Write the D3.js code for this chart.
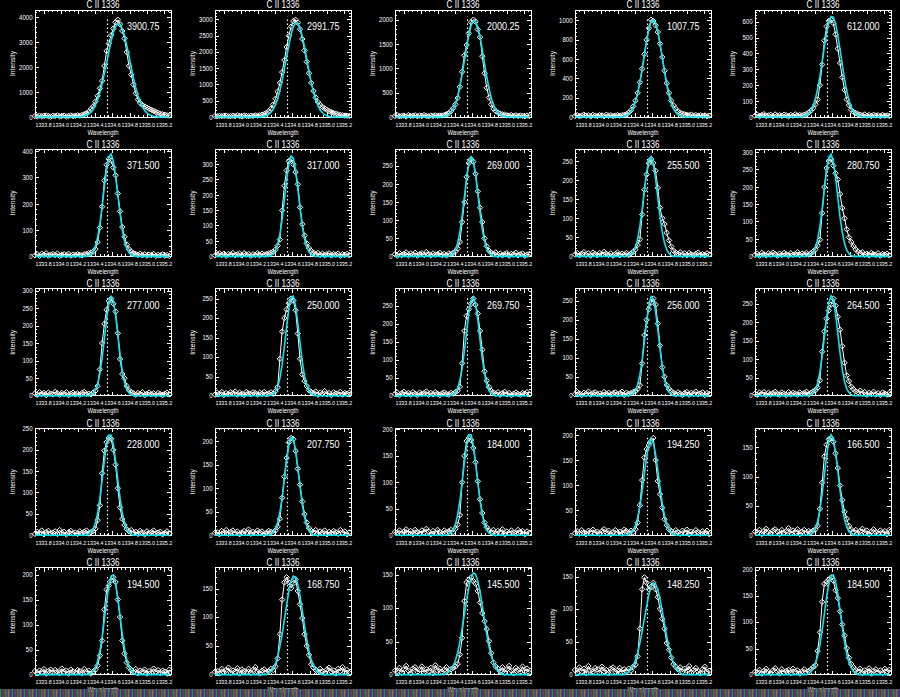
<!DOCTYPE html>
<head>
<meta charset="utf-8">
<script src="https://d3js.org/d3.v7.min.js"></script>
<style>
    body{margin:0;background:#000;}
    text{font-family:"Liberation Sans",Arial,sans-serif;fill:#fff;}
</style>
</head>
<body>
<div id="container"></div>
<script>
    // wavelength grid (Angstrom) shared by every spectrum
    var wave = [1333.700,1333.726,1333.752,1333.778,1333.804,1333.830,1333.856,1333.882,1333.908,1333.934,
        1333.960,1333.986,1334.012,1334.038,1334.064,1334.090,1334.116,1334.142,1334.168,1334.194,
        1334.220,1334.246,1334.272,1334.298,1334.324,1334.350,1334.376,1334.402,1334.428,1334.454,
        1334.480,1334.506,1334.532,1334.558,1334.584,1334.610,1334.636,1334.662,1334.688,1334.714,
        1334.740,1334.766,1334.792,1334.818,1334.844,1334.870,1334.896,1334.922,1334.948,1334.974,
        1335.000,1335.026,1335.052,1335.078,1335.104,1335.130,1335.156,1335.182,1335.208,1335.234,
        1335.260];
    var xTicks = [1333.8,1334.0,1334.2,1334.4,1334.6,1334.8,1335.0,1335.2];
    var restWave = 1334.532;
    var lineTitle = 'C II 1336';

    // observed intensities, one array per panel
    var obs01 = [40,25,55,30,45,60,35,20,50,40,65,30,45,55,25,40,60,35,50,70,55,80,110,150,210,320,430,620,850,1150,1450,2050,2650,2950,3280,3550,3800,3900.75,3720,3450,3150,2600,2050,1700,1300,950,700,560,480,420,380,330,290,250,200,170,130,110,90,70,60];
    var obs02 = [30,20,40,25,35,45,20,30,40,25,50,30,20,45,35,25,40,30,50,45,55,70,90,130,180,260,380,560,780,1050,1380,1750,2150,2500,2780,2950,2991.75,2900,2700,2400,2050,1700,1350,1050,800,600,460,370,310,260,220,180,150,120,100,80,65,55,45,40,35];
    var obs03 = [20,35,15,25,30,10,40,20,25,35,15,30,20,40,25,15,30,20,35,25,30,30,40,55,80,120,180,260,390,620,930,1270,1480,1720,1950,2000.25,1960,1800,1640,1250,900,600,400,260,170,120,90,70,55,45,35,30,40,25,35,20,30,25,15,30,20];
    var obs04 = [10,20,8,15,25,12,18,6,22,14,10,20,16,8,24,12,18,10,15,20,14,18,22,30,45,70,110,170,250,360,500,650,800,920,1007.75,995,950,880,760,620,480,350,250,170,120,85,60,45,35,28,22,18,25,15,20,12,18,10,16,8,14];
    var obs05 = [8,15,5,12,18,6,10,14,4,16,9,12,7,15,11,5,13,8,17,10,12,10,14,20,28,40,55,80,110,200,330,480,570,605,612,590,520,430,340,250,170,110,75,45,32,25,18,14,10,16,8,12,6,14,9,11,5,13,8,10,7];
    var obs06 = [4,8,2,10,6,12,3,7,9,5,11,2,6,8,4,10,3,7,5,9,6,4,8,10,12,14,18,28,55,110,190,290,350,371.5,365,340,310,240,172,112,75,45,28,18,12,9,6,10,4,8,3,7,5,9,2,6,4,8,3,5,2];
    var obs07 = [3,7,10,5,9,2,8,6,11,4,7,9,3,10,6,8,2,7,5,11,4,9,6,8,10,12,15,22,35,55,150,230,280,310,317,300,275,235,160,105,68,42,27,18,12,8,11,5,9,4,7,10,3,8,6,9,2,7,5,8,4];
    var obs08 = [6,2,9,4,7,11,3,8,5,10,2,6,9,4,12,7,3,8,5,6,10,4,7,3,8,6,10,14,22,40,95,150,220,258,269,262,228,180,135,95,50,28,16,10,7,11,4,8,3,6,9,2,7,5,10,3,6,8,2,5,7];
    var obs09 = [5,9,3,7,11,4,8,2,10,6,3,9,5,12,7,4,8,2,6,10,3,7,5,9,4,8,12,18,30,45,110,175,215,245,255.5,245,225,180,128,100,85,62,42,26,15,10,7,11,4,8,3,9,5,2,7,10,4,6,3,8,5];
    var obs10 = [4,8,2,10,6,3,9,5,11,7,2,8,4,10,6,3,9,5,7,12,4,8,6,10,5,9,14,20,32,48,125,200,255,275,280.75,262,240,222,180,140,110,78,55,42,30,20,14,9,12,5,8,3,10,6,4,9,2,7,5,8,3];
    var obs11 = [7,3,10,5,8,2,9,6,4,11,7,3,8,5,10,2,6,9,4,7,3,8,11,5,6,4,9,14,28,75,150,205,245,270,277,262,240,178,105,62,50,28,16,10,7,3,8,5,10,2,6,9,4,7,3,8,5,2,6,9,4];
    var obs12 = [3,8,5,10,2,7,4,9,6,11,3,8,5,2,10,6,4,9,7,3,8,5,10,4,6,9,5,12,22,95,165,200,222,238,250,245,220,160,95,55,38,25,14,10,6,11,3,8,5,12,4,7,2,9,6,4,10,3,7,5,8];
    var obs13 = [5,9,2,7,11,4,8,3,10,6,2,9,5,7,12,3,8,4,10,6,2,7,9,5,3,8,6,10,14,25,90,180,222,240,255,269.75,252,228,180,128,68,42,24,14,9,5,10,3,7,11,4,8,2,6,9,5,3,8,6,10,4];
    var obs14 = [4,10,6,2,8,5,11,3,7,9,4,6,2,10,5,8,3,7,9,4,6,11,2,8,5,7,10,12,18,28,85,160,200,228,245,256,240,190,132,75,50,28,18,12,8,4,9,6,2,7,10,3,8,5,11,4,6,9,2,7,5];
    var obs15 = [6,3,9,5,10,2,8,4,7,11,5,3,9,6,2,10,4,8,6,3,9,5,7,11,4,8,12,15,22,42,120,175,210,232,248,264.5,245,215,180,135,90,55,40,25,18,12,9,14,6,10,3,8,5,11,4,7,2,9,6,3,8];
    var obs16 = [3,8,5,11,2,7,10,4,6,9,3,12,5,8,2,7,10,4,6,3,9,5,8,11,4,7,10,15,35,70,145,198,218,228,226,200,165,110,65,38,24,14,9,12,5,8,3,10,6,2,9,4,7,11,3,6,8,2,5,9,4];
    var obs17 = [5,6,2,9,5,11,3,7,10,4,8,2,6,9,5,12,3,7,4,10,6,8,2,5,9,7,4,10,18,35,80,125,165,198,207.75,205,180,142,108,72,45,27,15,9,6,11,3,8,5,10,2,7,4,9,6,3,11,5,8,2,6];
    var obs18 = [6,5,9,3,7,11,4,8,2,10,6,3,9,5,12,7,2,8,4,10,6,3,9,5,7,10,6,12,20,38,100,150,178,184,180,165,138,102,68,42,24,15,9,5,10,3,8,6,11,2,7,4,9,5,3,10,6,8,2,7,4];
    var obs19 = [4,8,3,10,5,2,9,6,11,4,7,3,8,12,5,9,2,6,10,4,7,3,11,8,5,9,6,12,25,60,110,155,172,180,188,194.25,150,108,82,55,32,20,12,8,4,10,6,3,9,5,11,2,7,4,10,6,3,8,5,9,2];
    var obs20 = [6,4,9,2,7,11,5,3,8,10,6,2,9,4,7,12,3,8,5,10,2,6,9,4,7,5,8,10,16,45,90,135,155,164,166.5,160,140,115,85,60,40,28,16,10,6,9,3,7,11,4,8,2,6,10,5,3,8,4,7,2,9];
    var obs21 = [7,3,8,5,11,2,7,10,4,9,6,3,12,5,8,2,10,6,4,9,7,3,11,5,8,2,6,10,18,38,68,130,170,178,188,194.5,185,150,115,68,42,24,14,9,5,11,3,8,6,10,2,7,4,12,5,9,3,8,6,2,10];
    var obs22 = [5,6,2,10,4,8,12,3,7,5,11,2,9,6,4,10,3,8,13,5,2,7,9,4,6,10,8,14,28,70,130,160,168.75,160,150,158,165,145,122,98,70,50,34,18,12,8,4,10,6,3,9,12,5,7,2,10,6,13,4,8,3];
    var obs23 = [6,5,10,3,8,13,6,2,9,11,4,7,12,3,8,5,10,2,14,6,9,4,7,11,3,8,10,12,16,30,55,110,138,142,145.5,140,136,125,108,92,80,68,50,32,18,12,9,5,11,3,8,13,6,2,10,7,4,12,5,9,3];
    var obs24 = [7,3,11,5,9,2,13,6,4,10,8,3,12,5,7,2,9,11,4,6,10,3,8,5,9,6,12,15,28,70,130,148.25,140,130,134,140,130,118,100,85,70,48,38,26,16,12,8,11,4,9,6,13,3,7,10,5,2,8,12,4,6];
    var obs25 = [5,4,9,2,7,11,5,3,8,12,6,2,10,4,7,9,3,11,5,8,2,6,10,4,7,10,14,18,45,80,138,172,176,180,184.5,178,160,145,120,95,74,50,32,20,14,9,6,11,3,8,5,12,2,7,10,4,8,3,11,6,9];

    // gaussian fit values, non-zero part only, starting at grid index fitFrom[k]
    var fitFrom = [21,22,22,22,22, 24,25,25,24,24, 25,25,25,25,25, 24,25,24,24,25, 25,24,23,23,24];
    var fit01 = [22,39,70,121,197,312,476,702,979,1330,1737,2161,2613,3036,3387,3626,3743,3714,3540,3257,2873,2432,2003,1569,1181,854,605,404,259,164,98,56,31,17];
    var fit02 = [23,46,84,145,235,377,563,818,1119,1479,1847,2221,2535,2772,2888,2877,2738,2480,2155,1778,1412,1059,769,525,348,215,131,73,41,20];
    var fit03 = [13,27,52,97,169,274,429,636,876,1156,1442,1688,1881,1978,1966,1847,1648,1384,1096,830,588,393,252,151,85,46,24,11];
    var fit04 = [7,15,29,56,96,157,246,358,492,643,785,908,986,1010,974,887,757,613,468,333,226,142,86,49,25,13,6];
    var fit05 = [5,11,22,40,70,115,177,255,347,443,530,598,632,628,586,514,424,328,238,163,104,63,36,19,10,4];
    var fit06 = [3,8,19,39,73,125,191,266,333,380,391,365,309,236,164,102,57,30,14,6,2];
    var fit07 = [3,8,19,39,72,122,184,248,300,327,320,281,221,158,100,57,29,14,6,2];
    var fit08 = [3,8,18,37,68,112,164,217,258,275,263,227,175,121,75,43,21,10,4];
    var fit09 = [2,5,11,24,46,79,123,175,221,253,262,243,204,154,105,64,35,18,8,3];
    var fit10 = [2,5,11,25,49,86,136,194,249,286,295,274,228,171,114,70,38,18,8,3];
    var fit11 = [3,7,16,34,64,107,162,219,263,282,270,230,175,118,71,39,19,8,3];
    var fit12 = [2,4,11,23,45,80,126,177,224,253,256,231,187,136,88,51,27,12,5,2];
    var fit13 = [1,4,9,21,43,76,123,178,230,265,274,254,211,155,103,62,32,15,7,2];
    var fit14 = [2,6,14,29,55,94,143,195,239,261,255,223,175,123,76,43,22,10,4];
    var fit15 = [3,7,16,35,64,107,160,213,254,272,260,223,170,117,72,39,19,9,3];
    var fit16 = [3,7,14,29,52,87,130,174,213,235,235,213,174,130,87,52,29,14,7,3];
    var fit17 = [2,6,13,27,49,80,119,160,192,209,205,181,144,104,66,39,20,10,4];
    var fit18 = [2,4,10,20,39,65,100,138,170,190,190,170,138,100,65,39,20,10,4,2];
    var fit19 = [2,4,9,19,35,58,88,123,156,182,192,185,162,130,95,63,39,21,11,5,2];
    var fit20 = [2,5,12,24,43,70,103,136,161,172,165,142,111,77,48,27,14,6,3];
    var fit21 = [3,7,14,27,47,75,110,146,177,197,199,182,153,118,81,52,30,16,8,3];
    var fit22 = [3,6,11,19,31,49,70,95,121,145,163,171,169,157,136,111,85,61,41,26,15,8,4,2];
    var fit23 = [2,4,8,13,21,33,49,69,90,111,131,145,152,150,140,124,103,81,60,42,28,18,11,6,3];
    var fit24 = [2,4,8,14,22,33,48,66,85,104,122,134,140,138,129,115,97,77,58,41,28,18,11,6,3];
    var fit25 = [2,5,11,21,36,56,84,115,147,172,187,189,176,152,122,90,62,39,23,13,6,3];

    var obsList = [obs01,obs02,obs03,obs04,obs05,obs06,obs07,obs08,obs09,obs10,obs11,obs12,obs13,obs14,obs15,
        obs16,obs17,obs18,obs19,obs20,obs21,obs22,obs23,obs24,obs25];
    var fitList = [fit01,fit02,fit03,fit04,fit05,fit06,fit07,fit08,fit09,fit10,fit11,fit12,fit13,fit14,fit15,
        fit16,fit17,fit18,fit19,fit20,fit21,fit22,fit23,fit24,fit25];

    var W = 900, H = 697, cols = 5, pw = 180, ph = H / 5;
    var box = {l:35, r:171, t:10, b:117};
    var svg = d3.select('#container').append('svg').attr('width',W).attr('height',H);
    svg.append('rect').attr('width',W).attr('height',H).attr('fill','#000');

    var x = d3.scaleLinear().domain([1333.70,1335.28]).range([box.l,box.r]);
    var diamond = 'M0,-2.7L2.7,0L0,2.7L-2.7,0Z';

    function fmt(v){ return v >= 1000 ? v.toFixed(2) : v.toFixed(3); }

    obsList.forEach(function(obs,k){
        var g = svg.append('g').attr('transform','translate(' + (k % cols) * pw + ',' + Math.floor(k / cols) * ph + ')');
        var peak = d3.max(obs);
        var y = d3.scaleLinear().domain([0,peak * 1.1]).range([box.b,box.t]);
        var fit = wave.map(function(w,i){
            var j = i - fitFrom[k];
            return (j >= 0 && j < fitList[k].length) ? fitList[k][j] : 0;
        });

        // frame
        g.append('rect').attr('x',box.l).attr('y',box.t).attr('width',box.r - box.l).attr('height',box.b - box.t)
            .attr('fill','none').attr('stroke','#fff').attr('stroke-width',1).attr('shape-rendering','crispEdges');

        // ticks on all four sides
        var yt = y.ticks(5), ystep = yt[1] - yt[0];
        var yminor = d3.range(0,peak * 1.1,ystep / 5);
        var tk = g.append('g').attr('stroke','#fff').attr('shape-rendering','crispEdges');
        yminor.forEach(function(v){
            var major = yt.indexOf(Math.round(v * 1000) / 1000) >= 0;
            var len = major ? 4 : 2, py = Math.round(y(v)) + 0.5;
            tk.append('line').attr('x1',box.l).attr('x2',box.l + len).attr('y1',py).attr('y2',py);
            tk.append('line').attr('x1',box.r - len).attr('x2',box.r).attr('y1',py).attr('y2',py);
        });
        d3.range(1333.75,1335.28,0.05).forEach(function(v){
            var major = xTicks.some(function(t){ return Math.abs(t - v) < 1e-6; });
            var len = major ? 4 : 2, px = Math.round(x(v)) + 0.5;
            tk.append('line').attr('x1',px).attr('x2',px).attr('y1',box.b - len).attr('y2',box.b);
            tk.append('line').attr('x1',px).attr('x2',px).attr('y1',box.t).attr('y2',box.t + len);
        });

        g.selectAll('.ylab').data(yt).enter().append('text').attr('class','ylab')
            .attr('x',32.5).attr('y',function(d){ return y(d) + 2.5; })
            .attr('text-anchor','end').attr('font-size',7)
            .attr('textLength',function(d){ return String(d).length * 3.35; }).attr('lengthAdjust','spacingAndGlyphs')
            .text(function(d){ return d; });
        g.selectAll('.xlab').data(xTicks).enter().append('text').attr('class','xlab')
            .attr('x',function(d){ return x(d); }).attr('y',126.5)
            .attr('text-anchor','middle').attr('font-size',5.4)
            .attr('textLength',16.4).attr('lengthAdjust','spacingAndGlyphs')
            .text(function(d){ return d.toFixed(1); });

        g.append('text').attr('x',(box.l + box.r) / 2).attr('y',8.3).attr('text-anchor','middle')
            .attr('font-size',10).attr('textLength',33).attr('lengthAdjust','spacingAndGlyphs').text(lineTitle);
        g.append('text').attr('x',(box.l + box.r) / 2).attr('y',134.5).attr('text-anchor','middle')
            .attr('font-size',6.5).attr('textLength',31).attr('lengthAdjust','spacingAndGlyphs').text('Wavelength');
        g.append('text').attr('transform','translate(15,' + (box.t + box.b) / 2 + ') rotate(-90)').attr('text-anchor','middle')
            .attr('font-size',7.5).attr('textLength',25).attr('lengthAdjust','spacingAndGlyphs').text('Intensity');
        g.append('text').attr('x',127).attr('y',30).attr('font-size',11)
            .attr('textLength',32.5).attr('lengthAdjust','spacingAndGlyphs').text(fmt(peak));

        // rest wavelength
        g.append('line').attr('x1',Math.round(x(restWave)) + 0.5).attr('x2',Math.round(x(restWave)) + 0.5)
            .attr('y1',y(0)).attr('y2',y(peak * 1.03))
            .attr('stroke','#fff').attr('stroke-dasharray','1.5,2.5').attr('stroke-width',1.2);

        // observed profile
        var line = d3.line().x(function(d,i){ return x(wave[i]); }).y(function(d){ return y(d); });
        g.append('path').datum(obs).attr('d',line).attr('fill','none').attr('stroke','#fff').attr('stroke-width',1);
        g.selectAll('.pt').data(obs).enter().append('path').attr('class','pt')
            .attr('transform',function(d,i){ return 'translate(' + x(wave[i]) + ',' + y(d) + ')'; })
            .attr('d',diamond).attr('fill','none').attr('stroke','#fff').attr('stroke-width',1);

        // fit
        g.append('path').datum(fit).attr('d',line).attr('fill','none').attr('stroke','#0ce4f0').attr('stroke-width',1.6);
    });

    // colour stripe along the bottom edge
    var stripeCols = ['#1fa01f','#3434c8','#b42424','#2a8a2a','#7a30b0','#28a028','#c03030','#2c3cd0'];
    var defs = svg.append('defs');
    var pat = defs.append('pattern').attr('id','stripe').attr('width',stripeCols.length * 1.5).attr('height',10).attr('patternUnits','userSpaceOnUse');
    stripeCols.forEach(function(c,i){
        pat.append('rect').attr('x',i * 1.5).attr('y',0).attr('width',1.5).attr('height',10).attr('fill',c);
    });
    svg.append('rect').attr('x',0).attr('y',689).attr('width',W).attr('height',8).attr('fill','url(#stripe)');
</script>
</body>
